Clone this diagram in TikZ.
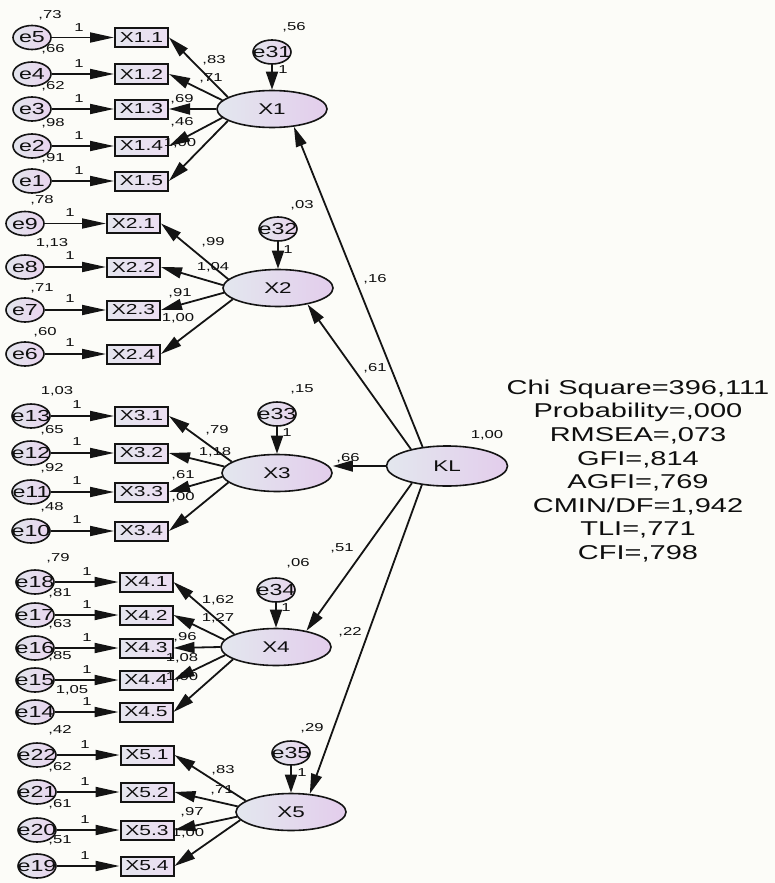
\documentclass[tikz,border=0pt]{standalone}
\usepackage{fontspec}
\setmainfont{Liberation Sans}
\usepackage{graphicx}
\usetikzlibrary{arrows.meta,shapes.geometric}
\newcommand{\hs}[1]{\scalebox{1.45}[1]{#1}}
\newcommand{\hz}[1]{\scalebox{1.45}[1]{\makebox[0pt]{#1}}}
\definecolor{bgc}{RGB}{252,252,248}
\definecolor{lineC}{RGB}{20,20,20}
\definecolor{eL}{RGB}{226,229,237}
\definecolor{eR}{RGB}{233,212,238}
\definecolor{lL}{RGB}{227,231,238}
\definecolor{lR}{RGB}{227,205,236}
\definecolor{bL}{RGB}{228,229,238}
\definecolor{bR}{RGB}{236,222,242}
\definecolor{txt}{RGB}{15,15,15}
\begin{document}
\begin{tikzpicture}[x=1pt,y=-1pt,
  errv/.style={ellipse,draw=lineC,line width=1.6pt,left color=eL,right color=eR,minimum width=38pt,minimum height=24pt,inner sep=0pt,font=\fontsize{16}{16}\selectfont,text=txt},
  lat/.style={ellipse,draw=lineC,line width=1.6pt,left color=lL,right color=lR,minimum width=110pt,minimum height=37pt,inner sep=0pt,font=\fontsize{15.5}{15.5}\selectfont,text=txt},
  ind/.style={rectangle,draw=lineC,line width=2pt,left color=bL,right color=bR,minimum width=53pt,minimum height=19pt,inner sep=0pt,font=\fontsize{14.5}{14.5}\selectfont,text=txt},
  lab/.style={inner sep=0pt,font=\fontsize{11.5}{12}\selectfont,text=txt},
  harr/.style={draw=lineC,line width=1.8pt,-{Triangle[length=24pt,width=10pt]}},
  darr/.style={draw=lineC,line width=1.8pt,-{Triangle[length=21pt,width=11pt]}},
  varr/.style={draw=lineC,line width=1.8pt,-{Triangle[length=18pt,width=12pt]}},
  karr/.style={draw=lineC,line width=1.8pt,-{Triangle[length=20pt,width=11pt]}},
  stat/.style={inner sep=0pt,align=center,font=\fontsize{20}{23.6}\selectfont,text=txt}
]
\useasboundingbox (0,0) rectangle (775,883);
\fill[bgc] (0,0) rectangle (775,883);

% ---------- X1 ----------
\node[lat] (X1) at (272,109) {\hz{X1}};
\node[errv] (e31) at (272,52) {\hz{e31}};
\draw[varr] (e31) -- (X1);
\node[lab] (o31) at (283,70) {\hs{1}};
\node[lab] (v31) at (294,27) {\hs{,56}};
\foreach \k/\y/\e/\v/\vx/\vy in {1/37.5/5/{,73}/50/15, 2/74/4/{,66}/53/49, 3/109/3/{,62}/53/86, 4/146/2/{,98}/53/123, 5/181/1/{,91}/53/158}{
  \node[errv] (e\e) at (32,\y) {\hz{e\e}};
  \node[ind] (x1\k) at (141.5,\y) {\hs{X1.\k}};
  \draw[harr] (e\e) -- (x1\k);
  \node[lab] (o\e) at (79,\y-10) {\hs{1}};
  \node[lab] (v\e) at (\vx,\vy) {\hs{\v}};
}
\foreach \k/\a in {1/165,2/170,3/180,4/190,5/195}{\draw[darr] (X1.\a) -- (x1\k.east);}
\node[lab] (ld11) at (214,60) {\hs{,83}};
\node[lab] (ld12) at (211,78) {\hs{,71}};
\node[lab] (ld13) at (182,99) {\hs{,69}};
\node[lab] (ld14) at (182,122) {\hs{,46}};
\node[lab] (ld15) at (180,143) {\hs{1,00}};

% ---------- X2 ----------
\node[lat] (X2) at (278,288) {\hz{X2}};
\node[errv] (e32) at (278,229) {\hz{e32}};
\draw[varr] (e32) -- (X2);
\node[lab] (o32) at (288,250) {\hs{1}};
\node[lab] (v32) at (302,205) {\hs{,03}};
\foreach \k/\y/\e/\v/\vx/\vy in {1/223.5/9/{,78}/42/200, 2/267/8/{1,13}/52/243, 3/310/7/{,71}/42/288, 4/354/6/{,60}/45/332}{
  \node[errv] (e\e) at (25,\y) {\hz{e\e}};
  \node[ind] (x2\k) at (133.5,\y) {\hs{X2.\k}};
  \draw[harr] (e\e) -- (x2\k);
  \node[lab] (o\e) at (70,\y-11) {\hs{1}};
  \node[lab] (v\e) at (\vx,\vy) {\hs{\v}};
}
\foreach \k/\a in {1/170,2/177,3/185,4/194}{\draw[darr] (X2.\a) -- (x2\k.east);}
\node[lab] (ld21) at (213,242) {\hs{,99}};
\node[lab] (ld22) at (213,267) {\hs{1,04}};
\node[lab] (ld23) at (180,293) {\hs{,91}};
\node[lab] (ld24) at (178,318) {\hs{1,00}};

% ---------- X3 ----------
\node[lat] (X3) at (277,473) {\hz{X3}};
\node[errv] (e33) at (277,414) {\hz{e33}};
\draw[varr] (e33) -- (X3);
\node[lab] (o33) at (287,433) {\hs{1}};
\node[lab] (v33) at (302,389) {\hs{,15}};
\foreach \k/\y/\e/\v/\vx/\vy in {1/416/13/{1,03}/57/391, 2/453/12/{,65}/52/430, 3/492/11/{,92}/52/468, 4/531/10/{,48}/52/507}{
  \node[errv] (e\e) at (31,\y) {\hz{e\e}};
  \node[ind] (x3\k) at (141.5,\y) {\hs{X3.\k}};
  \draw[harr] (e\e) -- (x3\k);
  \node[lab] (o\e) at (77,\y-11) {\hs{1}};
  \node[lab] (v\e) at (\vx,\vy) {\hs{\v}};
}
\foreach \k/\a in {1/166,2/173,3/184,4/191}{\draw[darr] (X3.\a) -- (x3\k.east);}
\node[lab] (ld31) at (217,430) {\hs{,79}};
\node[lab] (ld32) at (215,452) {\hs{1,18}};
\node[lab] (ld33) at (183,475) {\hs{,61}};
\node[lab] (ld34) at (183,497) {\hs{,00}};

% ---------- X4 ----------
\node[lat] (X4) at (276,647) {\hz{X4}};
\node[errv] (e34) at (276,590) {\hz{e34}};
\draw[varr] (e34) -- (X4);
\node[lab] (o34) at (286,608) {\hs{1}};
\node[lab] (v34) at (298,563) {\hs{,06}};
\foreach \k/\y/\e/\v/\vx/\vy in {1/582/18/{,79}/58/558, 2/615/17/{,81}/60/593, 3/648/16/{,63}/60/624, 4/680/15/{,85}/60/656, 5/712/14/{1,05}/72/690}{
  \node[errv] (e\e) at (35,\y) {\hz{e\e}};
  \node[ind] (x4\k) at (146,\y) {\hs{X4.\k}};
  \draw[harr] (e\e) -- (x4\k);
  \node[lab] (o\e) at (87,\y-10) {\hs{1}};
  \node[lab] (v\e) at (\vx,\vy) {\hs{\v}};
}
\foreach \k/\a in {1/163,2/172,3/180,4/189,5/196}{\draw[darr] (X4.\a) -- (x4\k.east);}
\node[lab] (ld41) at (218,600) {\hs{1,62}};
\node[lab] (ld42) at (218,618) {\hs{1,27}};
\node[lab] (ld43) at (185,637) {\hs{,96}};
\node[lab] (ld44) at (182,658) {\hs{1,08}};
\node[lab] (ld45) at (182,677) {\hs{1,00}};

% ---------- X5 ----------
\node[lat] (X5) at (291,812) {\hz{X5}};
\node[errv] (e35) at (291,753) {\hz{e35}};
\draw[varr] (e35) -- (X5);
\node[lab] (o35) at (302,773) {\hs{1}};
\node[lab] (v35) at (312,728) {\hs{,29}};
\foreach \k/\y/\e/\v/\vx/\vy in {1/755/22/{,42}/60/730, 2/792/21/{,62}/60/767, 3/830/20/{,61}/60/804, 4/866/19/{,51}/60/840}{
  \node[errv] (e\e) at (37,\y) {\hz{e\e}};
  \node[ind] (x5\k) at (147,\y) {\hs{X5.\k}};
  \draw[harr] (e\e) -- (x5\k);
  \node[lab] (o\e) at (85,\y-10) {\hs{1}};
  \node[lab] (v\e) at (\vx,\vy) {\hs{\v}};
}
\foreach \k/\a in {1/166,2/174,3/185,4/189}{\draw[darr] (X5.\a) -- (x5\k.east);}
\node[lab] (ld51) at (223,770) {\hs{,83}};
\node[lab] (ld52) at (222,790) {\hs{,71}};
\node[lab] (ld53) at (192,812) {\hs{,97}};
\node[lab] (ld54) at (188,833) {\hs{1,00}};

% ---------- KL ----------
\node[lat,minimum width=121pt,minimum height=40pt] (KL) at (447,466) {\hz{KL}};
\node[lab] (vKL) at (487,435) {\hs{1,00}};
\draw[karr] (KL.142) -- (X1.321);
\draw[karr] (KL.155) -- (X2.331);
\draw[karr] (KL.west) -- (KL.west -| X3.east);
\draw[karr] (KL.206) -- (X4.28);
\draw[karr] (KL.217) -- (X5.44);
\node[lab] (k1) at (375,279) {\hs{,16}};
\node[lab] (k2) at (375,368) {\hs{,61}};
\node[lab] (k3) at (348,458) {\hs{,66}};
\node[lab] (k4) at (342,548) {\hs{,51}};
\node[lab] (k5) at (350,632) {\hs{,22}};

% ---------- fit ----------
\node[stat] (fit) at (638,471) {\hs{Chi Square=396,111}\\ \hs{Probability=,000}\\ \hs{RMSEA=,073}\\ \hs{GFI=,814}\\ \hs{AGFI=,769}\\ \hs{CMIN/DF=1,942}\\ \hs{TLI=,771}\\ \hs{CFI=,798}};
\end{tikzpicture}
\end{document}
